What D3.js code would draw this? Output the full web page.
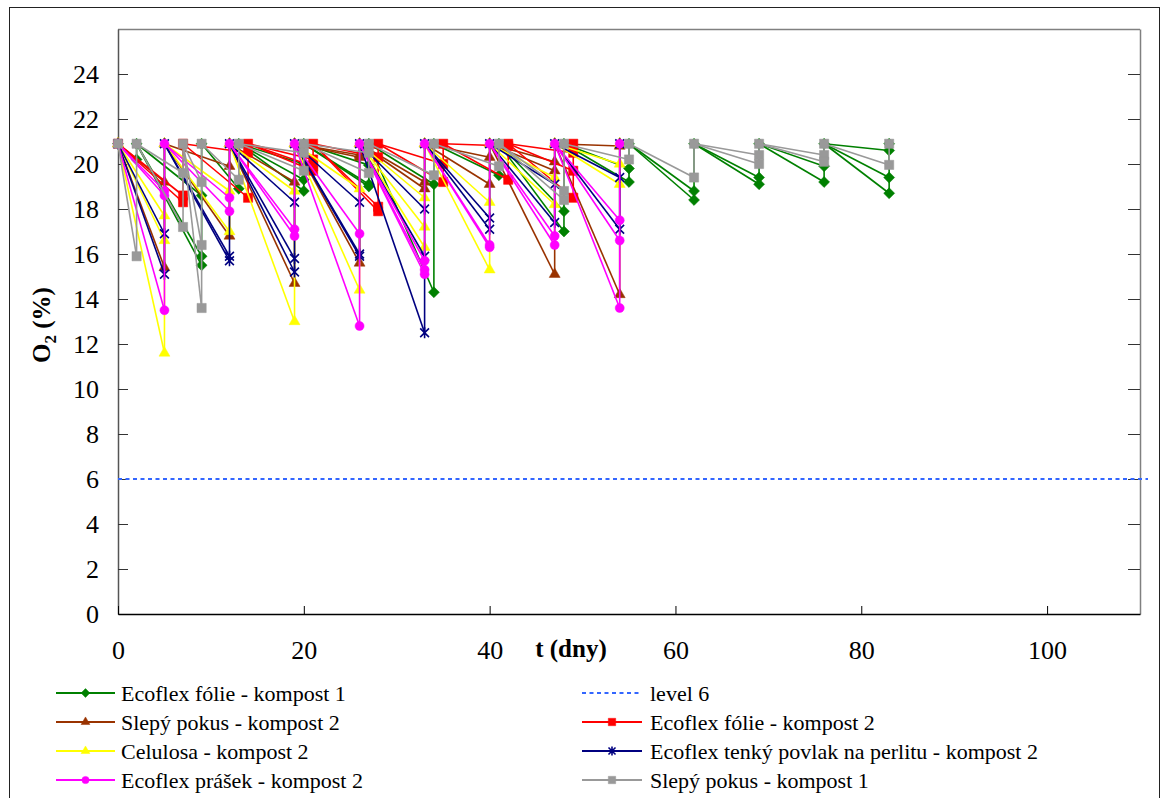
<!DOCTYPE html>
<html>
<head>
<meta charset="utf-8">
<script src="https://cdn.jsdelivr.net/npm/d3@7"></script>
<style>
  body { margin: 0; background: #fff; }
  svg text { font-family: "Liberation Serif", "Times New Roman", Tinos, "DejaVu Serif", serif !important; }
</style>
</head>
<body>
<div id="chart"></div>
<script>
// O2 level after aeration (all series restart from here)
const startLevel = 20.9;
const level6 = 6;

// measurement days for each series (day 0 = start)
const daysCompost2 = [0, 5, 12, 19, 26, 33, 40, 47, 54];
const daysFolie2 = [0, 7, 14, 21, 28, 35, 42, 49];
const daysFolie1 = [0, 2, 9, 13, 20, 27, 34, 41, 48, 55, 62, 69, 76, 83];
const daysSlepy1 = [0, 2, 7, 9, 13, 20, 27, 34, 41, 48, 55, 62, 69, 76, 83];

// measured O2 (%) at each day after day 0, replicates per day
const folie1 = [[20.2], [18.6, 15.9, 15.5], [18.9], [20.0, 19.3, 18.8], [19.95, 19.1, 19.0],
  [19.1, 14.3], [19.5], [17.9, 17.0], [19.8, 19.2], [18.8, 18.4], [19.4, 19.1], [19.9, 19.2],
  [20.6, 19.4, 18.7]];
const slepy2 = [[19.2, 15.4], [19.9, 16.8], [19.2, 14.7], [20.4, 20.3, 15.6], [19.2, 18.9],
  [20.3, 19.1], [20.1, 19.7, 15.1], [20.8, 14.2]];
const folie2 = [[18.6, 18.3], [20.5, 18.5], [20.2, 19.9, 19.7], [20.3, 18.1, 17.9], [20.0, 19.2],
  [20.8, 19.3], [20.5, 19.7, 18.5]];
const celulosa = [[17.7, 16.6, 11.6], [18.8, 17.0], [18.8, 13.0], [18.9, 14.4], [18.5, 17.2, 16.3],
  [18.3, 15.3], [19.4, 18.2], [20.0, 19.1]];
const povlak = [[16.9, 15.1], [15.9, 15.7], [18.3, 15.8, 15.2], [18.3, 16.0, 15.9], [18.0, 15.9, 12.5],
  [17.6, 17.1], [19.1, 17.4], [19.4, 17.1]];
const prasek = [[18.8, 18.6, 13.5], [18.5, 17.9], [17.1, 16.8], [16.9, 12.8], [15.7, 15.3, 15.1],
  [16.3, 16.4], [16.8, 16.4], [17.5, 16.6, 13.6]];
const slepy1 = [[15.9], [19.6, 17.2], [19.2, 16.4, 13.6], [19.3], [20.5, 19.7], [20.5, 19.6],
  [19.5], [19.9], [18.8, 18.4], [20.2], [19.4], [20.4, 20.0], [20.4, 20.1], [19.96]];

const yTicks = [0, 2, 4, 6, 8, 10, 12, 14, 16, 18, 20, 22, 24];
const xTicks = [0, 20, 40, 60, 80, 100];

const series = [
  {name: 'Ecoflex fólie - kompost 1', days: daysFolie1, vals: folie1, color: '#008000', marker: 'diamond'},
  {name: 'Slepý pokus - kompost 2', days: daysCompost2, vals: slepy2, color: '#993300', marker: 'triangle'},
  {name: 'Ecoflex fólie - kompost 2', days: daysFolie2, vals: folie2, color: '#ff0000', marker: 'square'},
  {name: 'Celulosa - kompost 2', days: daysCompost2, vals: celulosa, color: '#ffff00', marker: 'triangle'},
  {name: 'Ecoflex tenký povlak na perlitu - kompost 2', days: daysCompost2, vals: povlak, color: '#000080', marker: 'star'},
  {name: 'Ecoflex prášek - kompost 2', days: daysCompost2, vals: prasek, color: '#ff00ff', marker: 'circle'},
  {name: 'Slepý pokus - kompost 1', days: daysSlepy1, vals: slepy1, color: '#999999', marker: 'square'}
];

const W = 1161, H = 798;
const plot = {left: 118, right: 1140, top: 29, bottom: 614};
const serif = '"Liberation Serif", "Times New Roman", Tinos, "DejaVu Serif", serif';

const svg = d3.select('#chart').append('svg')
  .attr('width', W)
  .attr('height', H)
  .attr('font-family', serif);

svg.append('rect')
  .attr('x', 9.5).attr('y', 7.5)
  .attr('width', 1150).attr('height', 800)
  .attr('fill', '#fff').attr('stroke', '#222').attr('stroke-width', 1);

const x = d3.scaleLinear().domain([0, 110]).range([plot.left, plot.right]);
const y = d3.scaleLinear().domain([0, 26]).range([plot.bottom, plot.top]);

// frame top / right
svg.append('line')
  .attr('x1', plot.left).attr('x2', plot.right)
  .attr('y1', plot.top + 0.5).attr('y2', plot.top + 0.5)
  .attr('stroke', '#808080').attr('stroke-width', 1.5);

const yAxis = svg.append('g')
  .attr('transform', `translate(${plot.left},0)`)
  .call(d3.axisLeft(y).tickValues(yTicks).tickSize(-10).tickSizeOuter(0).tickPadding(19))
  .attr('font-family', serif);
yAxis.select('.domain').attr('stroke', '#555').attr('stroke-width', 1.5);
yAxis.selectAll('.tick line').attr('stroke', '#333');
yAxis.selectAll('text').attr('font-size', 26).attr('fill', '#000');

const yAxisR = svg.append('g')
  .attr('transform', `translate(${plot.right},0)`)
  .call(d3.axisRight(y).tickValues(yTicks).tickSize(-12).tickSizeOuter(0).tickFormat(''));
yAxisR.select('.domain').attr('stroke', '#808080').attr('stroke-width', 1.5);
yAxisR.selectAll('.tick line').attr('stroke', '#333');

const xAxis = svg.append('g')
  .attr('transform', `translate(0,${plot.bottom})`)
  .call(d3.axisBottom(x).tickValues(xTicks).tickSize(-8).tickSizeOuter(0).tickPadding(27))
  .attr('font-family', serif);
xAxis.select('.domain').attr('stroke', '#000').attr('stroke-width', 1.5);
xAxis.selectAll('.tick line').attr('stroke', '#000');
xAxis.selectAll('text').attr('font-size', 26).attr('fill', '#000');

// axis titles
const yTitle = svg.append('text')
  .attr('transform', 'translate(50,325) rotate(-90)')
  .attr('text-anchor', 'middle')
  .attr('font-size', 25).attr('font-weight', 'bold');
yTitle.append('tspan').text('O');
yTitle.append('tspan').attr('font-size', 17).attr('dy', 6).text('2');
yTitle.append('tspan').attr('dy', -6).text(' (%)');

svg.append('text')
  .attr('x', 571).attr('y', 657)
  .attr('text-anchor', 'middle')
  .attr('font-size', 25).attr('font-weight', 'bold')
  .text('t (dny)');

function markerPath(type, s) {
  if (type === 'star') {
    const r = 5.5 * s;
    const d = r * 0.8;
    return `M${-d},${-d}L${d},${d}M${-d},${d}L${d},${-d}M0,${-r}L0,${r}`;
  }
  const sym = {
    diamond: d3.symbolSquare, square: d3.symbolSquare,
    triangle: d3.symbolTriangle, circle: d3.symbolCircle
  }[type];
  const size = {diamond: 60, square: 85, triangle: 52, circle: 64}[type] * s * s;
  return d3.symbol().type(sym).size(size)();
}

function drawMarker(g, type, color, px, py, s) {
  const p = g.append('path')
    .attr('d', markerPath(type, s))
    .attr('transform', `translate(${px},${py})` + (type === 'diamond' ? ' rotate(45)' : ''));
  if (type === 'star') {
    p.attr('fill', 'none').attr('stroke', color).attr('stroke-width', 1.6);
  } else {
    p.attr('fill', color).attr('stroke', color).attr('stroke-width', 0.5);
  }
}

const line = d3.line().x(d => x(d[0])).y(d => y(d[1]));
const marks = svg.append('g');

function drawSeries(s) {
  const g = marks.append('g');
  for (let i = 1; i < s.days.length; i++) {
    const v = s.vals[i - 1];
    v.forEach(val => {
      g.append('path')
        .attr('d', line([[s.days[i - 1], startLevel], [s.days[i], val]]))
        .attr('fill', 'none').attr('stroke', s.color).attr('stroke-width', 1.6);
    });
    g.append('path')
      .attr('d', line([[s.days[i], d3.min(v)], [s.days[i], startLevel]]))
      .attr('fill', 'none').attr('stroke', s.color).attr('stroke-width', 1.6);
  }
  drawMarker(g, s.marker, s.color, x(s.days[0]), y(startLevel), 1);
  for (let i = 1; i < s.days.length; i++) {
    s.vals[i - 1].forEach(val => drawMarker(g, s.marker, s.color, x(s.days[i]), y(val), 1));
    drawMarker(g, s.marker, s.color, x(s.days[i]), y(startLevel), 1);
  }
}

drawSeries(series[0]);
// level 6 line
marks.append('line')
  .attr('x1', x(0)).attr('x2', plot.right + 8)
  .attr('y1', y(level6)).attr('y2', y(level6))
  .attr('stroke', '#3366ff').attr('stroke-width', 2)
  .attr('stroke-dasharray', '4,3.5');
series.slice(1).forEach(drawSeries);

// legend
const legendLeft = [series[0], series[1], series[3], series[5]];
const legendRight = [{name: 'level 6', dashed: true, color: '#3366ff'}, series[2], series[4], series[6]];
const rowY = [693, 722, 751, 780];

function legendCol(items, x0, x1, tx) {
  items.forEach((it, i) => {
    const yy = rowY[i];
    const l = svg.append('line')
      .attr('x1', x0).attr('x2', x1).attr('y1', yy).attr('y2', yy)
      .attr('stroke', it.color).attr('stroke-width', 2);
    if (it.dashed) l.attr('stroke-dasharray', '4,3.5');
    else drawMarker(svg, it.marker, it.color, (x0 + x1) / 2, yy, 0.8);
    svg.append('text')
      .attr('x', tx).attr('y', yy + 8)
      .attr('font-size', 22)
      .text(it.name);
  });
}
legendCol(legendLeft, 56, 115, 121);
legendCol(legendRight, 582, 642, 650);
</script>
</body>
</html>
